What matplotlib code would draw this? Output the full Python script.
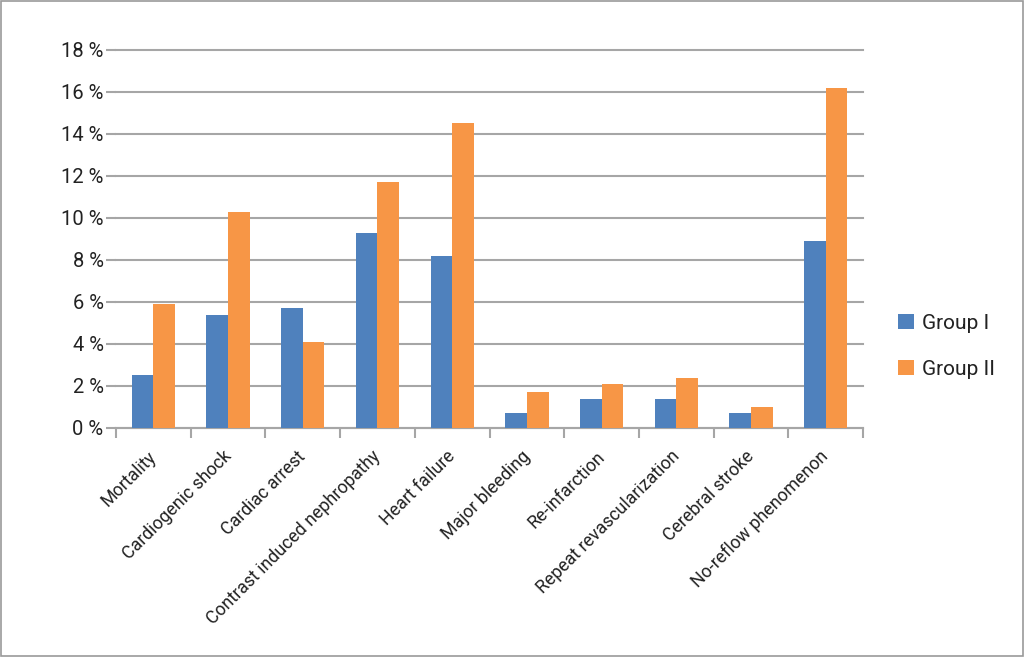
import numpy as np
import matplotlib
matplotlib.use("Agg")
import matplotlib.pyplot as plt
import matplotlib.transforms as mtransforms
from matplotlib.ticker import FuncFormatter, MultipleLocator

# values (percent)
categories = ["Mortality", "Cardiogenic shock", "Cardiac arrest",
              "Contrast induced nephropathy", "Heart failure", "Major bleeding",
              "Re-infarction", "Repeat revascularization", "Cerebral stroke",
              "No-reflow phenomenon"]
group1 = [2.5, 5.4, 5.7, 9.3, 8.2, 0.7, 1.4, 1.4, 0.7, 8.9]
group2 = [5.9, 10.3, 4.1, 11.7, 14.5, 1.7, 2.1, 2.4, 1.0, 16.2]
series_names = ["Group I", "Group II"]

plt.rcParams["font.family"] = ["Roboto", "DejaVu Sans"]

fig = plt.figure(figsize=(10.24, 6.57), dpi=100)
ax = fig.add_axes([0.1133, 0.3486, 0.7295, 0.5753])

x = np.arange(len(categories))
w = 0.29
ax.bar(x - w / 2, group1, width=w, color="#4f81bd", label=series_names[0], zorder=3)
ax.bar(x + w / 2, group2, width=w, color="#f79646", label=series_names[1], zorder=3)

ax.set_xlim(-0.5, len(categories) - 0.5)
ax.set_ylim(0, 18)
ax.yaxis.set_major_locator(MultipleLocator(2))
ax.yaxis.set_major_formatter(FuncFormatter(lambda v, p: f"{v:.0f} %"))
ax.grid(axis="y", color="#a6a6a6", linewidth=1.5, zorder=0)
for gl in ax.get_ygridlines():
    gl.set_clip_on(False)

for s in ["top", "right", "left"]:
    ax.spines[s].set_visible(False)
ax.spines["bottom"].set_color("#a6a6a6")
ax.spines["bottom"].set_linewidth(1.5)

ax.tick_params(axis="y", length=7, width=1.5, color="#a6a6a6",
               labelsize=14.5, labelcolor="#222222", pad=2)
# category ticks sit between the groups
ax.set_xticks(np.arange(-0.5, len(categories), 1.0))
ax.set_xticklabels([])
ax.tick_params(axis="x", which="major", length=7, width=1.5, color="#a6a6a6")
ax.set_xticks(x, minor=True)
ax.set_xticklabels(categories, minor=True, rotation=45, ha="right",
                   rotation_mode="anchor", fontsize=12.8, color="#222222")
ax.tick_params(axis="x", which="minor", length=0, pad=14)
# nudge the slanted labels a little to the left
shift = mtransforms.ScaledTranslation(-6 / 100, 0, fig.dpi_scale_trans)
for lab in ax.get_xticklabels(minor=True):
    lab.set_transform(lab.get_transform() + shift)

leg = fig.legend(loc="center left", bbox_to_anchor=(0.877, 0.473), frameon=False,
                 fontsize=15, handlelength=0.75, handleheight=0.75,
                 labelspacing=1.3, handletextpad=0.4,
                 borderpad=0, borderaxespad=0)
for t in leg.get_texts():
    t.set_color("#222222")

# thin grey border around the whole picture
fig.patches.append(plt.Rectangle((0.001, 0.001), 0.998, 0.998, transform=fig.transFigure,
                                 fill=False, edgecolor="#9a9a9a", linewidth=1.2))

fig.savefig("out.png", dpi=100)
